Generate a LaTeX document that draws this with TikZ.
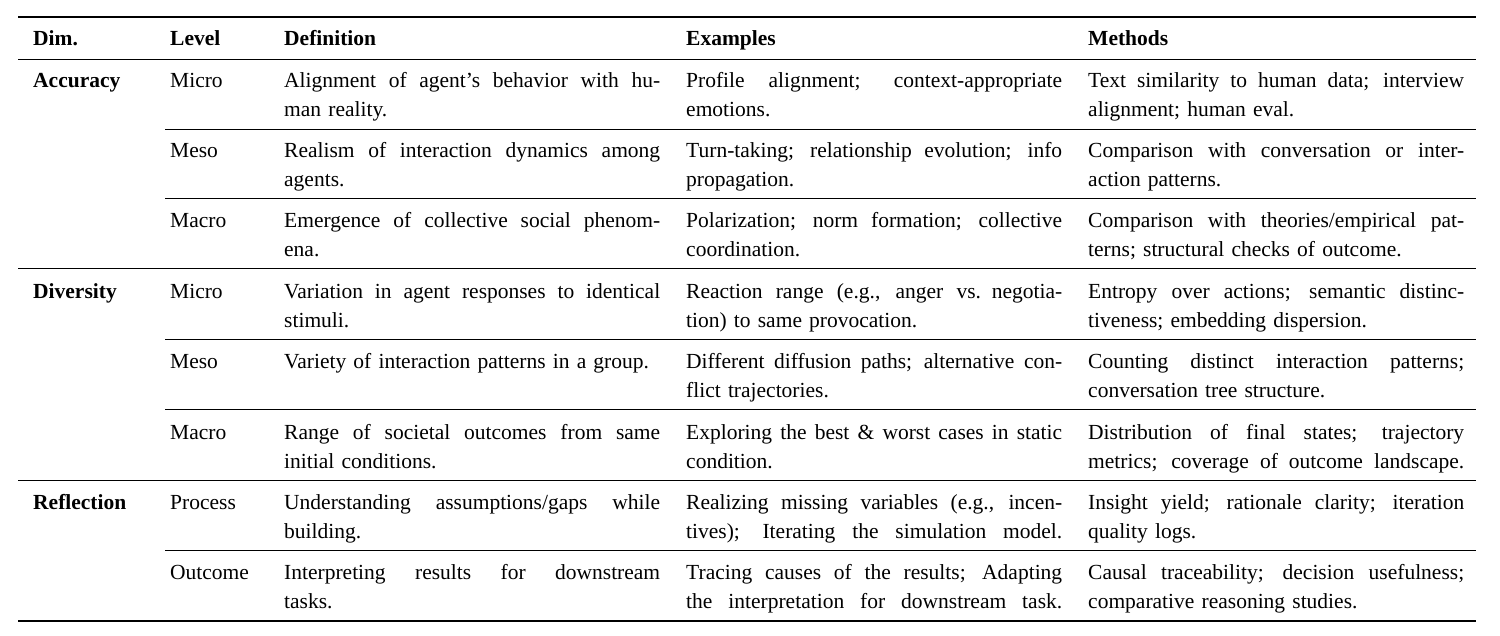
\documentclass[tikz,border=0pt]{standalone}
\usepackage{fontspec}
\setmainfont{Liberation Serif}
\newcommand{\jl}[1]{\hbox to 376pt{\spaceskip=0.25em plus 1fil\relax #1}}
\begin{document}
\begin{tikzpicture}[x=1pt,y=-1pt,
  cell/.style={anchor=base west,inner sep=0pt,text width=376pt,align=left,font=\fontsize{21.5}{29}\selectfont},
  lab/.style={anchor=base west,inner sep=0pt,font=\fontsize{21.5}{29}\selectfont},
  hd/.style={lab,font=\fontsize{21.5}{29}\selectfont\bfseries}]
\useasboundingbox (0,0) rectangle (1500,636);
\draw[line width=1.6pt] (18,17) -- (1476,17);
\draw[line width=0.9pt] (18,59) -- (1476,59);
\draw[line width=0.9pt] (18,268) -- (1476,268);
\draw[line width=0.9pt] (18,480) -- (1476,480);
\draw[line width=1.6pt] (18,621) -- (1476,621);
\foreach \yy in {129,198,339,409,550} \draw[line width=0.6pt] (165,\yy) -- (1476,\yy);
\node[hd] (h1) at (33,46) {Dim.};
\node[hd] (h2) at (170,46) {Level};
\node[hd] (h3) at (284,46) {Definition};
\node[hd] (h4) at (686,46) {Examples};
\node[hd] (h5) at (1088,46) {Methods};
\node[hd] (dA) at (33,88) {Accuracy};
\node[hd] (dD) at (33,299) {Diversity};
\node[hd] (dR) at (33,509) {Reflection};
\newcommand{\row}[6]{%
 \node[lab] (l#1) at (170,#2) {#3};
 \node[cell] (d#1) at (284,#2) {#4};
 \node[cell] (e#1) at (686,#2) {#5};
 \node[cell] (m#1) at (1088,#2) {#6};}
\row{1}{88}{Micro}{\jl{Alignment of agent's behavior with hu-}\\man reality.}{\jl{Profile alignment; context-appropriate}\\emotions.}{\jl{Text similarity to human data; interview}\\alignment; human eval.}
\row{2}{158}{Meso}{\jl{Realism of interaction dynamics among}\\agents.}{\jl{Turn-taking; relationship evolution; info}\\propagation.}{\jl{Comparison with conversation or inter-}\\action patterns.}
\row{3}{228}{Macro}{\jl{Emergence of collective social phenom-}\\ena.}{\jl{Polarization; norm formation; collective}\\coordination.}{\jl{Comparison with theories/empirical pat-}\\terns; structural checks of outcome.}
\row{4}{299}{Micro}{\jl{Variation in agent responses to identical}\\stimuli.}{\jl{Reaction range (e.g., anger vs. negotia-}\\tion) to same provocation.}{\jl{Entropy over actions; semantic distinc-}\\tiveness; embedding dispersion.}
\row{5}{369}{Meso}{Variety of interaction patterns in a group.}{\jl{Different diffusion paths; alternative con-}\\flict trajectories.}{\jl{Counting distinct interaction patterns;}\\conversation tree structure.}
\row{6}{439}{Macro}{\jl{Range of societal outcomes from same}\\initial conditions.}{\jl{Exploring the best \& worst cases in static}\\condition.}{\jl{Distribution of final states; trajectory}\\\jl{metrics; coverage of outcome landscape.}}
\row{7}{509}{Process}{\jl{Understanding assumptions/gaps while}\\building.}{\jl{Realizing missing variables (e.g., incen-}\\\jl{tives); Iterating the simulation model.}}{\jl{Insight yield; rationale clarity; iteration}\\quality logs.}
\row{8}{579}{Outcome}{\jl{Interpreting results for downstream}\\tasks.}{\jl{Tracing causes of the results; Adapting}\\\jl{the interpretation for downstream task.}}{\jl{Causal traceability; decision usefulness;}\\comparative reasoning studies.}
\end{tikzpicture}
\end{document}
